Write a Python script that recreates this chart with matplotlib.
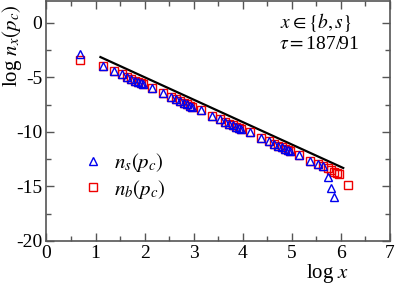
import matplotlib
matplotlib.use("Agg")
import matplotlib.pyplot as plt
from matplotlib.ticker import MultipleLocator
from matplotlib.lines import Line2D

plt.rcParams['font.family'] = ['Liberation Serif', 'DejaVu Serif']
plt.rcParams['mathtext.fontset'] = 'stix'
plt.rcParams['axes.unicode_minus'] = False

# data (log x, log n)
logx_b = [0.69,
          1.146, 1.38, 1.53, 1.64, 1.73, 1.806, 1.869, 1.924, 1.973,
          2.146, 2.38, 2.53, 2.64, 2.73, 2.806, 2.869, 2.924, 2.973,
          3.146, 3.38, 3.53, 3.64, 3.73, 3.806, 3.869, 3.924, 3.973,
          4.146, 4.38, 4.53, 4.64, 4.73, 4.806, 4.869, 4.924, 4.973,
          5.146, 5.38, 5.53, 5.64, 5.73, 5.806, 5.869, 5.924, 5.973,
          6.146]
logn_b = [-3.40,
          -3.93, -4.42, -4.72, -4.95, -5.14, -5.29, -5.42, -5.53, -5.63,
          -5.99, -6.47, -6.78, -7.01, -7.19, -7.35, -7.48, -7.59, -7.69,
          -7.95, -8.50, -8.82, -9.05, -9.24, -9.40, -9.53, -9.64, -9.74,
          -10.05, -10.55, -10.86, -11.08, -11.27, -11.42, -11.55, -11.66, -11.76,
          -12.15, -12.63, -12.94, -13.17, -13.35, -13.51, -13.64, -13.75, -13.85,
          -14.84]
logx_s = [0.69,
          1.146, 1.38, 1.53, 1.64, 1.73, 1.806, 1.869, 1.924, 1.973,
          2.146, 2.38, 2.53, 2.64, 2.73, 2.806, 2.869, 2.924, 2.973,
          3.146, 3.38, 3.53, 3.64, 3.73, 3.806, 3.869, 3.924, 3.973,
          4.146, 4.38, 4.53, 4.64, 4.73, 4.806, 4.869, 4.924, 4.973,
          5.146, 5.38, 5.53, 5.64, 5.73, 5.806, 5.869]
logn_s = [-2.86,
          -3.93, -4.42, -4.72, -4.95, -5.14, -5.29, -5.42, -5.53, -5.63,
          -5.99, -6.47, -6.78, -7.01, -7.19, -7.35, -7.48, -7.59, -7.69,
          -7.95, -8.50, -8.82, -9.05, -9.24, -9.40, -9.53, -9.64, -9.74,
          -10.05, -10.55, -10.86, -11.08, -11.27, -11.42, -11.55, -11.66, -11.76,
          -12.15, -12.63, -12.94, -13.17, -14.10, -15.10, -16.00]
# guide line with slope -tau
fit_x = [1.1, 6.05]
fit_y = [-3.14, -13.31]

fig = plt.figure(figsize=(3.99, 2.85), dpi=100)
ax = fig.add_axes([0.1165, 0.1545, 0.8605, 0.842])

ax.plot(fit_x, fit_y, color='black', lw=1.6, zorder=2)
ax.plot(logx_b, logn_b, ls='none', marker='s', ms=5.8, mfc='none',
        mec='#ee0000', mew=1.0, zorder=3)
ax.plot(logx_s, logn_s, ls='none', marker='^', ms=5.6, mfc='none',
        mec='#0000ee', mew=1.0, zorder=4)

ax.set_xlim(0, 7)
ax.set_ylim(-20, 2)
ax.xaxis.set_major_locator(MultipleLocator(1))
ax.xaxis.set_minor_locator(MultipleLocator(0.5))
ax.yaxis.set_major_locator(MultipleLocator(5))
ax.yaxis.set_minor_locator(MultipleLocator(2.5))
ax.tick_params(which='both', direction='in', top=True, right=True,
               color='#555555', labelsize=14, pad=3)
ax.tick_params(which='major', length=6, width=1)
ax.tick_params(which='minor', length=3.5, width=1)
for sp in ax.spines.values():
    sp.set_color('#555555')
    sp.set_linewidth(1.2)
ax.set_yticks([0, -5, -10, -15, -20])
ax.set_yticklabels(['0', '-5', '-10', '-15', '-20'])

fig.text(0.822, 0.04, r'log $x$', fontsize=15, ha='center', va='center')
fig.text(0.03, 0.84, r'log $n_x(p_c)$', fontsize=15, ha='center',
         va='center', rotation=90)

ax.text(5.5, 0.05, r'$x \in \{b,s\}$', fontsize=14, ha='center', va='center')
ax.text(5.55, -1.95, r'$\tau = $187/91', fontsize=14, ha='center', va='center')

h1 = Line2D([], [], ls='none', marker='^', ms=5.6, mfc='none', mec='#0000ee', mew=1.0)
h2 = Line2D([], [], ls='none', marker='s', ms=5.8, mfc='none', mec='#ee0000', mew=1.0)
ax.legend([h1, h2], [r'$n_s(p_c)$', r'$n_b(p_c)$'], loc='lower left',
          bbox_to_anchor=(0.075, 0.125), frameon=False, fontsize=15,
          handlelength=1.0, handletextpad=0.5, labelspacing=0.15, borderpad=0)

fig.savefig('out.png', dpi=100)
